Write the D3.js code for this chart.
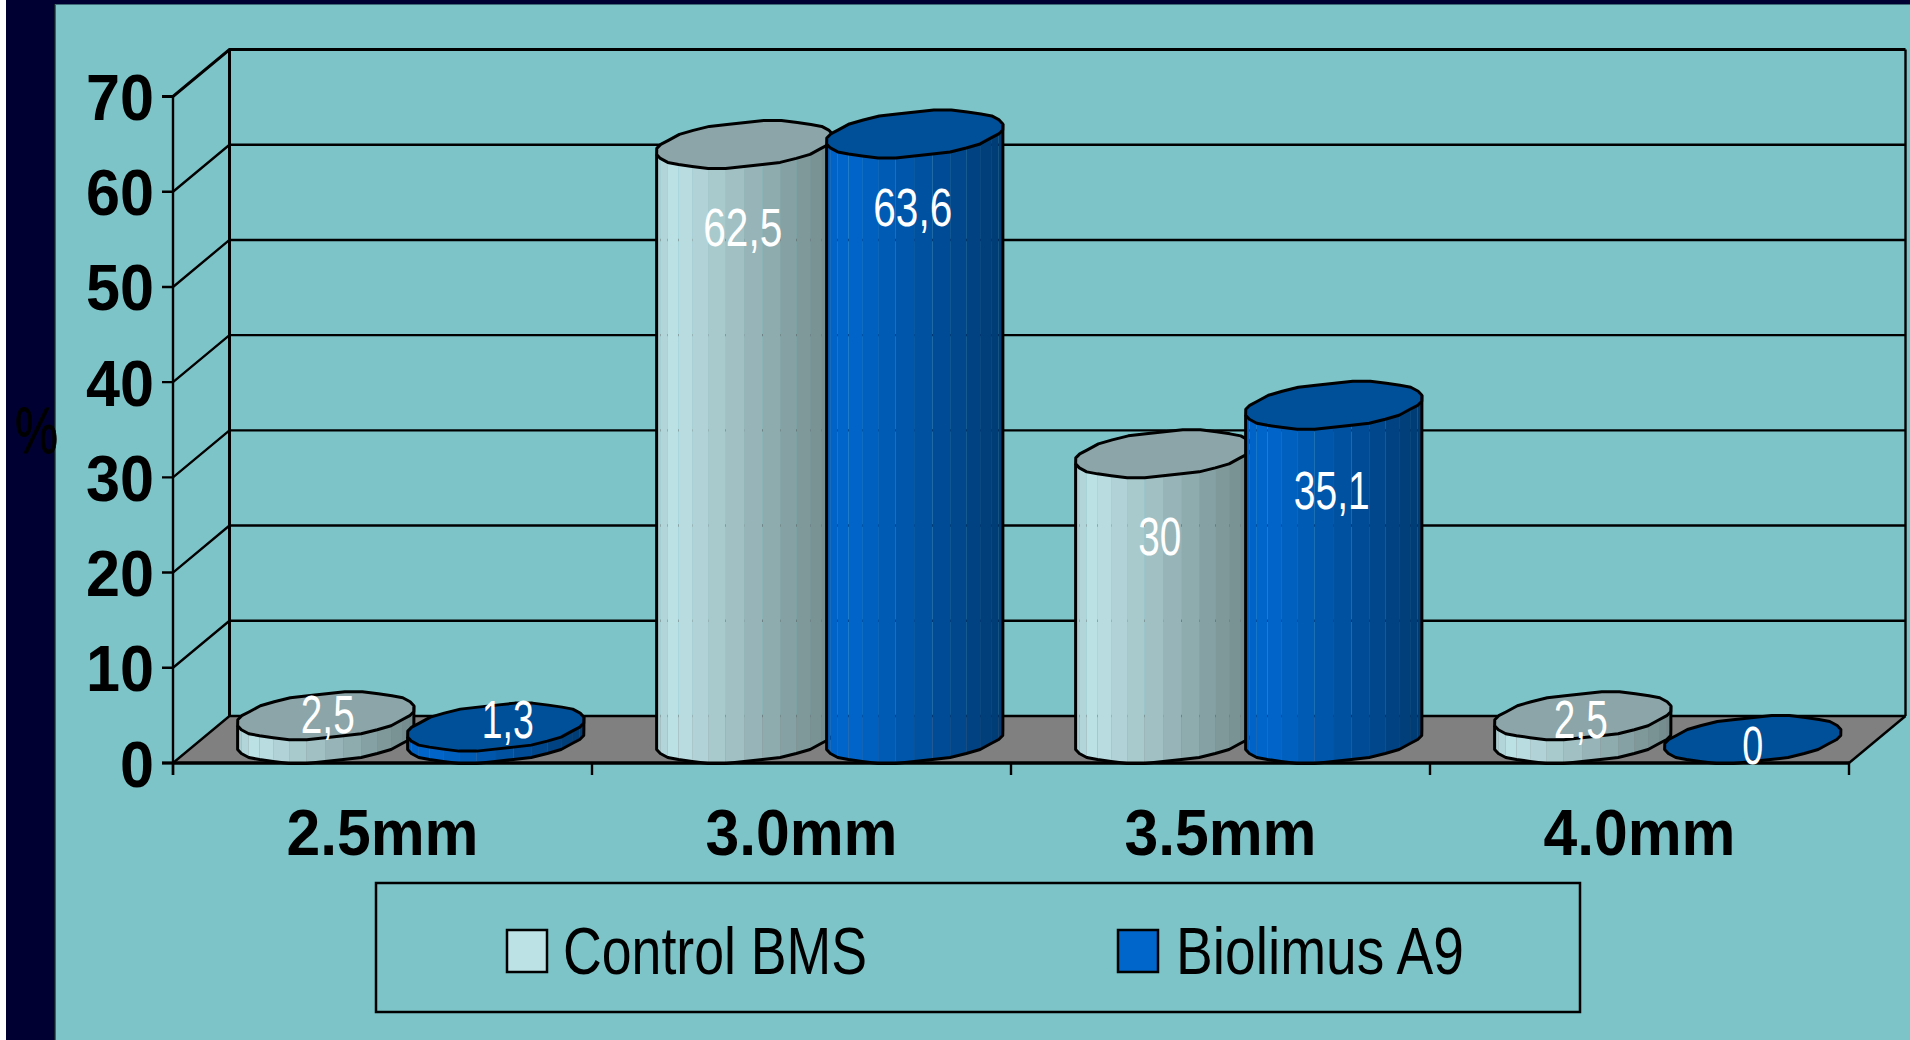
<!DOCTYPE html>
<html>
<head>
<meta charset="utf-8">
<script src="https://cdn.jsdelivr.net/npm/d3@7"></script>
<style>
html,body{margin:0;padding:0;background:#7dc4c8;overflow:hidden}
svg{display:block}
text{font-family:"Liberation Sans",Arial,sans-serif}
</style>
</head>
<body>
<svg id="chart" width="1910" height="1040"></svg>
<script>
// Stent diameter distribution, percent of lesions per arm
const categories = ["2.5mm", "3.0mm", "3.5mm", "4.0mm"];
const seriesNames = ["Control BMS", "Biolimus A9"];
const controlValues = [2.5, 62.5, 30, 2.5];
const biolimusValues = [1.3, 63.6, 35.1, 0];
const yTicks = [0, 10, 20, 30, 40, 50, 60, 70];

// Layout of the 3D box
const front = {left: 173, right: 1849, top: 96.5, bottom: 763};
const depth = {dx: 56.5, dy: 47};
const cyl = {a: 84, skew: 28, c: 24, step: 170};

const svg = d3.select("#chart");
const x = d3.scaleBand().domain(categories).range([front.left, front.right]);
const xs = d3.scaleBand().domain([0, 1]).range([-cyl.step, cyl.step]);
const y = d3.scaleLinear().domain([0, 70]).range([front.bottom, front.top]);
const decimalComma = v => String(v).replace(".", ",");
const centreX = (c, s) => x(categories[c]) + x.bandwidth() / 2 + depth.dx / 2 + xs(s) + xs.bandwidth() / 2;

// Page frame: white margin, navy band on the left and along the top
svg.append("rect").attr("width", 1910).attr("height", 1040).attr("fill", "#7dc4c8");
svg.append("rect").attr("width", 6).attr("height", 1040).attr("fill", "#fff");
svg.append("rect").attr("x", 6).attr("y", 0).attr("width", 49).attr("height", 1040).attr("fill", "#000033");
svg.append("rect").attr("x", 6).attr("y", 0).attr("width", 1904).attr("height", 4.5).attr("fill", "#000033");
svg.append("rect").attr("x", 54).attr("y", 4).attr("width", 1.6).attr("height", 1036).attr("fill", "#10202a");
svg.append("rect").attr("x", 55).attr("y", 4).attr("width", 1855).attr("height", 1).attr("fill", "#3f6a78");

// Back wall, side wall and gridlines
const box = svg.append("g").attr("stroke", "#000").attr("fill", "none");
box.append("path").attr("fill", "#808080").attr("stroke", "none")
  .attr("d", `M${front.left},${front.bottom}L${front.left + depth.dx},${front.bottom - depth.dy}L${front.right + depth.dx},${front.bottom - depth.dy}L${front.right},${front.bottom}Z`);
yTicks.forEach(t => {
  const yy = y(t);
  box.append("path").attr("stroke-width", t === 70 ? 3 : 2.4)
    .attr("d", `M${front.left - 11},${yy}L${front.left},${yy}L${front.left + depth.dx},${yy - depth.dy}L${front.right + depth.dx},${yy - depth.dy}`);
});
box.append("line").attr("stroke-width", 2.4).attr("x1", front.left).attr("x2", front.left).attr("y1", y(70)).attr("y2", y(0) + 12);
box.append("line").attr("stroke-width", 3).attr("x1", front.left + depth.dx).attr("x2", front.left + depth.dx).attr("y1", y(70) - depth.dy).attr("y2", y(0) - depth.dy);
box.append("line").attr("stroke-width", 2.4).attr("x1", front.right + depth.dx).attr("x2", front.right + depth.dx).attr("y1", y(70) - depth.dy).attr("y2", y(0) - depth.dy);
box.append("line").attr("stroke-width", 3).attr("x1", front.left - 11).attr("x2", front.right).attr("y1", y(0)).attr("y2", y(0));
box.append("line").attr("stroke-width", 2.4).attr("x1", front.right).attr("x2", front.right + depth.dx).attr("y1", y(0)).attr("y2", y(0) - depth.dy);
d3.range(categories.length + 1).forEach(i => {
  const tx = front.left + i * x.bandwidth();
  box.append("line").attr("stroke-width", 2.4).attr("x1", tx).attr("x2", tx).attr("y1", y(0)).attr("y2", y(0) + 12);
});

// Faceted outline of one cylinder cap; snapping y to a coarse grid gives the stepped edge
const FACETS = 30;
const SNAP = 2;
function capPoint(cx, cy, i) {
  const t = i / FACETS * 2 * Math.PI;
  const px = cx + Math.cos(t) * cyl.a + Math.sin(t) * cyl.skew;
  const py = cy - Math.sin(t) * cyl.c;
  return [px, cy + Math.round((py - cy) / SNAP) * SNAP];
}
const seriesStyle = [
  {top: "#8ba5a8", shade: d3.scaleLinear().domain([0, 0.1, 1]).range(["#a9ccd0", "#bde2e6", "#71888a"])},
  {top: "#004f99", shade: d3.scaleLinear().domain([0, 0.12, 1]).range(["#0062c4", "#0066cc", "#003a70"])}
];

function drawCylinder(g, cx, value, style) {
  const cyTop = y(value) - depth.dy / 2;
  const cyBase = y(0) - depth.dy / 2;
  const pts = d3.range(FACETS).map(i => capPoint(cx, cyTop, i));
  const basePts = d3.range(FACETS).map(i => capPoint(cx, cyBase, i));
  const extent = d3.extent(pts, p => p[0]);
  // Lower half of the outline runs from the leftmost point to the rightmost one
  const iLeft = d3.leastIndex(pts, (a, b) => a[0] - b[0]);
  const iRight = d3.greatestIndex(pts, (a, b) => a[0] - b[0]);
  const lower = [];
  for (let i = iLeft; ; i = (i + 1) % FACETS) { lower.push(i); if (i === iRight) break; }

  if (value > 0) {
    for (let k = 0; k < lower.length - 1; k++) {
      const a = lower[k], b = lower[k + 1];
      const t = ((pts[a][0] + pts[b][0]) / 2 - extent[0]) / (extent[1] - extent[0]);
      g.append("path").attr("fill", style.shade(t))
        .attr("d", `M${pts[a]}L${pts[b]}L${basePts[b]}L${basePts[a]}Z`);
    }
    const outline = [pts[iLeft]].concat(lower.map(i => basePts[i]), [pts[iRight]]);
    g.append("path").attr("fill", "none").attr("stroke", "#000").attr("stroke-width", 3)
      .attr("stroke-linejoin", "round").attr("d", d3.line()(outline));
  }
  g.append("path").attr("fill", style.top).attr("stroke", "#000").attr("stroke-width", 3)
    .attr("stroke-linejoin", "round").attr("d", d3.line().curve(d3.curveLinearClosed)(pts));
}

const bars = svg.append("g");
categories.forEach((cat, c) => {
  [controlValues[c], biolimusValues[c]].forEach((v, s) => drawCylinder(bars, centreX(c, s), v, seriesStyle[s]));
});

// Floor edge in front of the cylinder bases
svg.append("line").attr("stroke", "#000").attr("stroke-width", 3)
  .attr("x1", front.left).attr("x2", front.right).attr("y1", y(0)).attr("y2", y(0));

// Value labels, narrowed to the condensed face; nudges are in pixels from the cap centre
const labelNudge = [
  [[2, -1], [-2, 83], [-4, 83], [-2, 4]],
  [[12, -8], [-2, 74], [-2, 85], [0, 6]]
];
const labelWidths = {"2,5": 54, "1,3": 52, "62,5": 79, "63,6": 79, "30": 43, "35,1": 76, "0": 21};
[controlValues, biolimusValues].forEach((vals, s) => {
  vals.forEach((v, c) => {
    const tx = centreX(c, s) + labelNudge[s][c][0];
    const ty = y(v) - depth.dy / 2 + labelNudge[s][c][1] + 18.5;
    const txt = decimalComma(v);
    svg.append("text").attr("x", tx - labelWidths[txt] / 2).attr("y", ty)
      .attr("font-size", 53).attr("fill", "#fff")
      .attr("textLength", labelWidths[txt]).attr("lengthAdjust", "spacingAndGlyphs").text(txt);
  });
});

// Y axis numbers and unit
yTicks.forEach(t => {
  const w = t === 0 ? 34 : 68;
  svg.append("text").attr("x", 154 - w).attr("y", y(t) + 23.5)
    .attr("font-size", 65).attr("font-weight", "bold").attr("fill", "#000")
    .attr("textLength", w).attr("lengthAdjust", "spacingAndGlyphs").text(t);
});
svg.append("text").attr("x", 15).attr("y", 453).attr("font-size", 64)
  .attr("textLength", 43).attr("lengthAdjust", "spacingAndGlyphs")
  .attr("fill", "#000").attr("stroke", "#000").attr("stroke-width", 0.8).text("%");

// Category names
categories.forEach(cat => {
  const w = 192;
  svg.append("text").attr("x", x(cat) + x.bandwidth() / 2 - w / 2).attr("y", 855)
    .attr("font-size", 65).attr("font-weight", "bold").attr("fill", "#000")
    .attr("textLength", w).attr("lengthAdjust", "spacingAndGlyphs").text(cat);
});

// Legend
svg.append("rect").attr("x", 376).attr("y", 883).attr("width", 1204).attr("height", 129)
  .attr("fill", "none").attr("stroke", "#000").attr("stroke-width", 2.5);
const legendItems = [
  {swatch: 507, text: 563, width: 304, fill: "#bde2e6"},
  {swatch: 1118, text: 1176, width: 288, fill: "#0066cc"}
];
seriesNames.forEach((name, i) => {
  const it = legendItems[i];
  svg.append("rect").attr("x", it.swatch).attr("y", 930).attr("width", 40).attr("height", 42)
    .attr("fill", it.fill).attr("stroke", "#000").attr("stroke-width", 2.5);
  svg.append("text").attr("x", it.text).attr("y", 974).attr("font-size", 67).attr("fill", "#000")
    .attr("textLength", it.width).attr("lengthAdjust", "spacingAndGlyphs").text(name);
});
</script>
</body>
</html>
